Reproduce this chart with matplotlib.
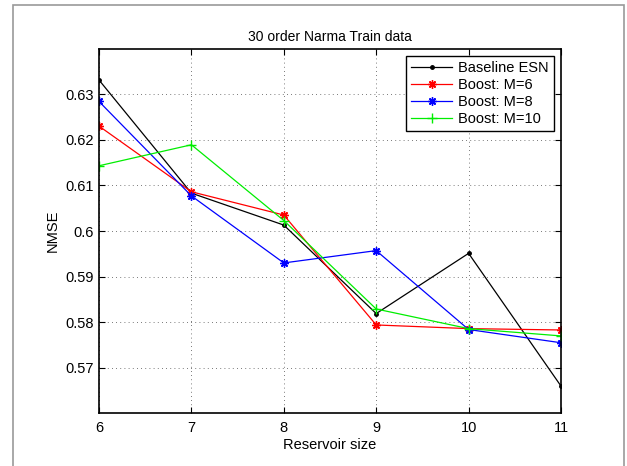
import numpy as np
import matplotlib
matplotlib.use("Agg")
import matplotlib.pyplot as plt
from matplotlib.patches import Rectangle

plt.rcParams['font.family'] = ['Liberation Sans', 'DejaVu Sans']

reservoir = [6, 7, 8, 9, 10, 11]
baseline = [0.6331, 0.6083, 0.6013, 0.5819, 0.5951, 0.5660]
boost_m6 = [0.6230, 0.6086, 0.6035, 0.5794, 0.5786, 0.5783]
boost_m8 = [0.6284, 0.6077, 0.5930, 0.5957, 0.5784, 0.5755]
boost_m10 = [0.6143, 0.6189, 0.6023, 0.5829, 0.5786, 0.5770]
yticks = [0.57, 0.58, 0.59, 0.60, 0.61, 0.62, 0.63]
ytick_labels = ["0.57", "0.58", "0.59", "0.6", "0.61", "0.62", "0.63"]

fig = plt.figure(figsize=(6.27, 4.66), dpi=100)
# outer frame like the original figure border
fig.patches.append(Rectangle((13 / 627, -0.1), 611 / 627, 1 - 5 / 466 + 0.1,
                             transform=fig.transFigure, fill=False,
                             edgecolor="#999999", linewidth=1.2))

ax = fig.add_axes([99 / 627, 1 - 413 / 466, 462 / 627, 364 / 466])

asterisk = (8, 2, 0)
ax.plot(reservoir, baseline, color="black", marker=".", markersize=5, linewidth=0.9, label="Baseline ESN")
ax.plot(reservoir, boost_m6, color="red", marker=asterisk, markersize=6, linewidth=0.9, label="Boost: M=6")
ax.plot(reservoir, boost_m8, color="blue", marker=asterisk, markersize=6, linewidth=0.9, label="Boost: M=8")
ax.plot(reservoir, boost_m10, color="#00ee00", marker="+", markersize=7, linewidth=0.9, label="Boost: M=10")

ax.set_xlim(6, 11)
ax.set_ylim(0.5601, 0.6399)
ax.set_xticks(reservoir)
ax.set_yticks(yticks)
ax.set_yticklabels(ytick_labels)
ax.tick_params(direction="in", labelsize=10.5, length=4, top=True, right=True)
ax.tick_params(axis="x", pad=6)
ax.grid(True, linestyle=(0, (1, 4)), color="black", linewidth=0.6, alpha=0.7)
for s in ax.spines.values():
    s.set_linewidth(1.2)

ax.set_title("30 order Narma Train data", fontsize=10, pad=6)
ax.set_xlabel("Reservoir size", fontsize=10.5, labelpad=2)
ax.set_ylabel("NMSE", fontsize=10.5, labelpad=4)

leg = ax.legend(loc="upper right", fontsize=10.5, fancybox=False, framealpha=1,
                edgecolor="black", handlelength=2.8, borderpad=0.35,
                labelspacing=0.2, handletextpad=0.4, borderaxespad=0.5)
leg.get_frame().set_linewidth(1.0)

fig.savefig("out.png", dpi=100)
